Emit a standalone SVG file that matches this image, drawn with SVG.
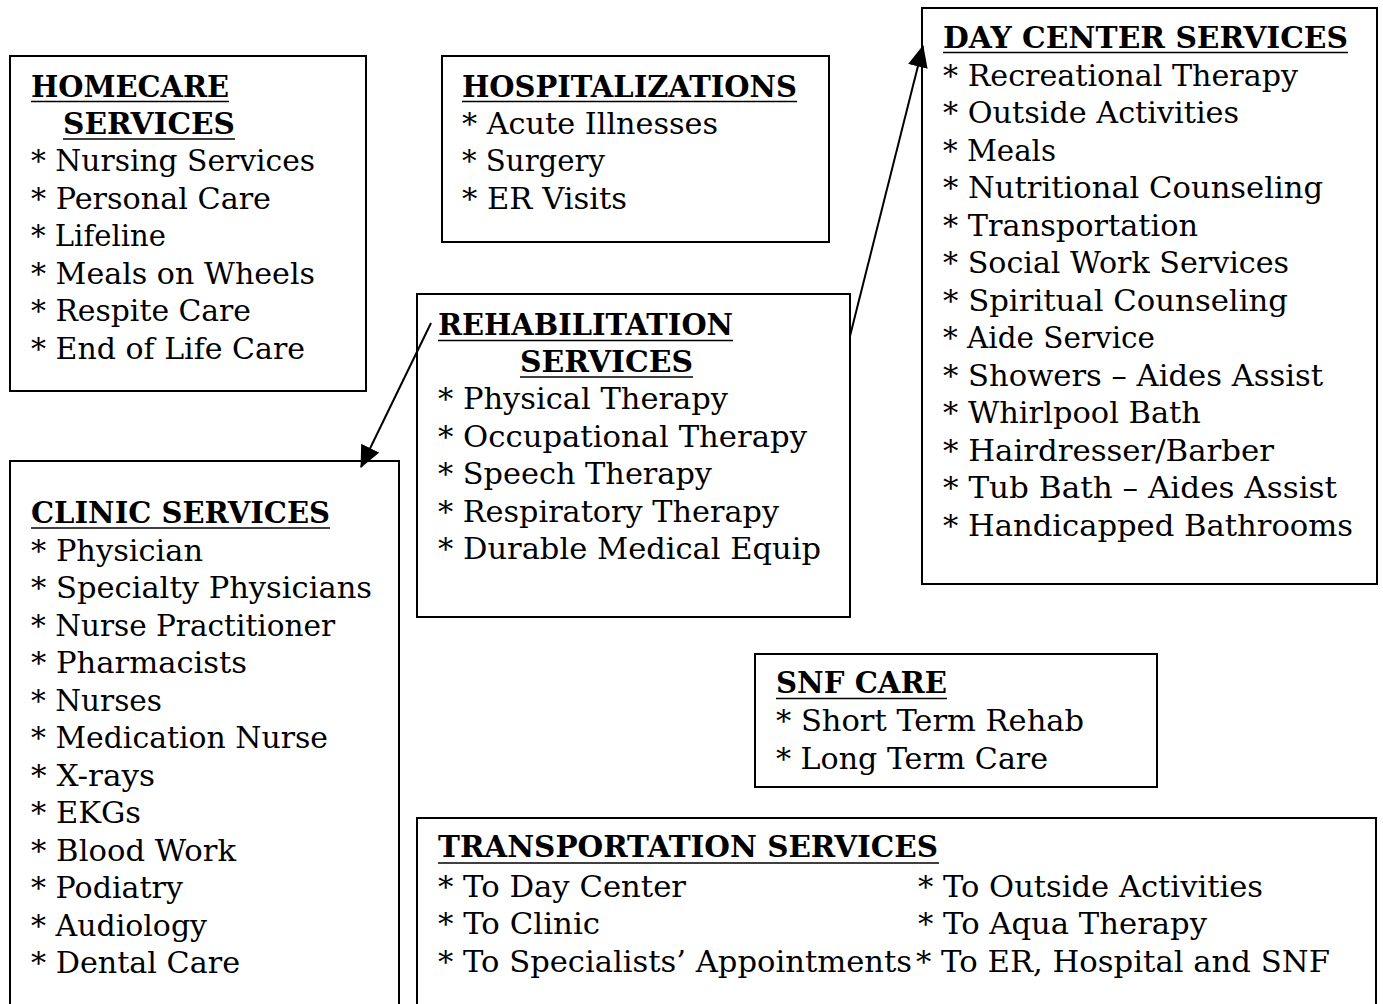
<svg xmlns="http://www.w3.org/2000/svg" width="1383" height="1004" viewBox="0 0 1383 1004">
<style>
.box{fill:#fff;stroke:#000;stroke-width:2}
.t{font-family:"DejaVu Serif","Liberation Serif",serif;font-size:29px;fill:#000}
.h{font-family:"DejaVu Serif","Liberation Serif",serif;font-size:29px;font-weight:bold;fill:#000}
.ul{stroke:#000;stroke-width:1.6}
.conn{stroke:#000;stroke-width:2;fill:none}
</style>
<defs>
<marker id="ah" markerUnits="userSpaceOnUse" markerWidth="22" markerHeight="20" refX="21" refY="10" orient="auto">
<path d="M0,0 L22,10 L0,20 z" fill="#000"/>
</marker>
</defs>
<rect width="1383" height="1004" fill="#fff"/>

<g id="homecare">
<rect class="box" x="10" y="56" width="356" height="335"/>
<text class="h" x="31" y="97" textLength="198" lengthAdjust="spacingAndGlyphs">HOMECARE</text>
<line class="ul" x1="31" y1="101.5" x2="229" y2="101.5"/>
<text class="h" x="63" y="133.5" textLength="172" lengthAdjust="spacingAndGlyphs">SERVICES</text>
<line class="ul" x1="63" y1="139" x2="235" y2="139"/>
<text class="t" x="31" y="171" textLength="284" lengthAdjust="spacingAndGlyphs">* Nursing Services</text>
<text class="t" x="31" y="208.5" textLength="240" lengthAdjust="spacingAndGlyphs">* Personal Care</text>
<text class="t" x="31" y="246" textLength="135" lengthAdjust="spacingAndGlyphs">* Lifeline</text>
<text class="t" x="31" y="283.5" textLength="284" lengthAdjust="spacingAndGlyphs">* Meals on Wheels</text>
<text class="t" x="31" y="321" textLength="220" lengthAdjust="spacingAndGlyphs">* Respite Care</text>
<text class="t" x="31" y="358.5" textLength="274" lengthAdjust="spacingAndGlyphs">* End of Life Care</text>
</g>

<g id="hospitalizations">
<rect class="box" x="442" y="56" width="387" height="186"/>
<text class="h" x="462" y="96.5" textLength="335" lengthAdjust="spacingAndGlyphs">HOSPITALIZATIONS</text>
<line class="ul" x1="462" y1="101.5" x2="797" y2="101.5"/>
<text class="t" x="462" y="133.5" textLength="256" lengthAdjust="spacingAndGlyphs">* Acute Illnesses</text>
<text class="t" x="462" y="171" textLength="143" lengthAdjust="spacingAndGlyphs">* Surgery</text>
<text class="t" x="462" y="208.5" textLength="165" lengthAdjust="spacingAndGlyphs">* ER Visits</text>
</g>

<g id="rehabilitation">
<rect class="box" x="417" y="294" width="433" height="323"/>
<text class="h" x="438" y="335" textLength="295" lengthAdjust="spacingAndGlyphs">REHABILITATION</text>
<line class="ul" x1="438" y1="340.5" x2="733" y2="340.5"/>
<text class="h" x="520" y="371.5" textLength="173" lengthAdjust="spacingAndGlyphs">SERVICES</text>
<line class="ul" x1="520" y1="377" x2="693" y2="377"/>
<text class="t" x="438" y="409" textLength="290" lengthAdjust="spacingAndGlyphs">* Physical Therapy</text>
<text class="t" x="438" y="446.5" textLength="369" lengthAdjust="spacingAndGlyphs">* Occupational Therapy</text>
<text class="t" x="438" y="484" textLength="274" lengthAdjust="spacingAndGlyphs">* Speech Therapy</text>
<text class="t" x="438" y="521.5" textLength="341" lengthAdjust="spacingAndGlyphs">* Respiratory Therapy</text>
<text class="t" x="438" y="559" textLength="383" lengthAdjust="spacingAndGlyphs">* Durable Medical Equip</text>
</g>

<g id="day-center">
<rect class="box" x="922" y="8" width="455" height="576"/>
<text class="h" x="943" y="48" textLength="405" lengthAdjust="spacingAndGlyphs">DAY CENTER SERVICES</text>
<line class="ul" x1="943" y1="52.5" x2="1348" y2="52.5"/>
<text class="t" x="943" y="86" textLength="355" lengthAdjust="spacingAndGlyphs">* Recreational Therapy</text>
<text class="t" x="943" y="123" textLength="296" lengthAdjust="spacingAndGlyphs">* Outside Activities</text>
<text class="t" x="943" y="160.5" textLength="113" lengthAdjust="spacingAndGlyphs">* Meals</text>
<text class="t" x="943" y="198" textLength="380" lengthAdjust="spacingAndGlyphs">* Nutritional Counseling</text>
<text class="t" x="943" y="235.5" textLength="255" lengthAdjust="spacingAndGlyphs">* Transportation</text>
<text class="t" x="943" y="273" textLength="346" lengthAdjust="spacingAndGlyphs">* Social Work Services</text>
<text class="t" x="943" y="311" textLength="345" lengthAdjust="spacingAndGlyphs">* Spiritual Counseling</text>
<text class="t" x="943" y="348" textLength="212" lengthAdjust="spacingAndGlyphs">* Aide Service</text>
<text class="t" x="943" y="385.5" textLength="380" lengthAdjust="spacingAndGlyphs">* Showers – Aides Assist</text>
<text class="t" x="943" y="423" textLength="258" lengthAdjust="spacingAndGlyphs">* Whirlpool Bath</text>
<text class="t" x="943" y="460.5" textLength="331" lengthAdjust="spacingAndGlyphs">* Hairdresser/Barber</text>
<text class="t" x="943" y="498" textLength="394" lengthAdjust="spacingAndGlyphs">* Tub Bath – Aides Assist</text>
<text class="t" x="943" y="535.5" textLength="410" lengthAdjust="spacingAndGlyphs">* Handicapped Bathrooms</text>
</g>

<g id="clinic">
<rect class="box" x="10" y="461" width="389" height="560"/>
<text class="h" x="31" y="522.5" textLength="299" lengthAdjust="spacingAndGlyphs">CLINIC SERVICES</text>
<line class="ul" x1="31" y1="528" x2="330" y2="528"/>
<text class="t" x="31" y="560.5" textLength="172" lengthAdjust="spacingAndGlyphs">* Physician</text>
<text class="t" x="31" y="598" textLength="341" lengthAdjust="spacingAndGlyphs">* Specialty Physicians</text>
<text class="t" x="31" y="635.5" textLength="304" lengthAdjust="spacingAndGlyphs">* Nurse Practitioner</text>
<text class="t" x="31" y="673" textLength="216" lengthAdjust="spacingAndGlyphs">* Pharmacists</text>
<text class="t" x="31" y="710.5" textLength="131" lengthAdjust="spacingAndGlyphs">* Nurses</text>
<text class="t" x="31" y="748" textLength="297" lengthAdjust="spacingAndGlyphs">* Medication Nurse</text>
<text class="t" x="31" y="785.5" textLength="124" lengthAdjust="spacingAndGlyphs">* X-rays</text>
<text class="t" x="31" y="823" textLength="110" lengthAdjust="spacingAndGlyphs">* EKGs</text>
<text class="t" x="31" y="860.5" textLength="205" lengthAdjust="spacingAndGlyphs">* Blood Work</text>
<text class="t" x="31" y="898" textLength="152" lengthAdjust="spacingAndGlyphs">* Podiatry</text>
<text class="t" x="31" y="935.5" textLength="176" lengthAdjust="spacingAndGlyphs">* Audiology</text>
<text class="t" x="31" y="973" textLength="209" lengthAdjust="spacingAndGlyphs">* Dental Care</text>
</g>

<g id="snf-care">
<rect class="box" x="755" y="654" width="402" height="133"/>
<text class="h" x="776" y="693" textLength="171" lengthAdjust="spacingAndGlyphs">SNF CARE</text>
<line class="ul" x1="776" y1="698.5" x2="947" y2="698.5"/>
<text class="t" x="776" y="731" textLength="308" lengthAdjust="spacingAndGlyphs">* Short Term Rehab</text>
<text class="t" x="776" y="768.5" textLength="272" lengthAdjust="spacingAndGlyphs">* Long Term Care</text>
</g>

<g id="transportation">
<rect class="box" x="417" y="818" width="959" height="200"/>
<text class="h" x="438" y="857" textLength="500" lengthAdjust="spacingAndGlyphs">TRANSPORTATION SERVICES</text>
<line class="ul" x1="438" y1="863" x2="939" y2="863"/>
<text class="t" x="438" y="897" textLength="248" lengthAdjust="spacingAndGlyphs">* To Day Center</text>
<text class="t" x="438" y="934" textLength="162" lengthAdjust="spacingAndGlyphs">* To Clinic</text>
<text class="t" x="438" y="972" textLength="474" lengthAdjust="spacingAndGlyphs">* To Specialists’ Appointments</text>
<text class="t" x="918" y="897" textLength="345" lengthAdjust="spacingAndGlyphs">* To Outside Activities</text>
<text class="t" x="918" y="934" textLength="289" lengthAdjust="spacingAndGlyphs">* To Aqua Therapy</text>
<text class="t" x="916" y="972" textLength="414" lengthAdjust="spacingAndGlyphs">* To ER, Hospital and SNF</text>
</g>

<g id="connectors">
<line class="conn" x1="850" y1="336" x2="923" y2="46" marker-end="url(#ah)"/>
<line class="conn" x1="431" y1="323" x2="361" y2="467" marker-end="url(#ah)"/>
</g>
</svg>
